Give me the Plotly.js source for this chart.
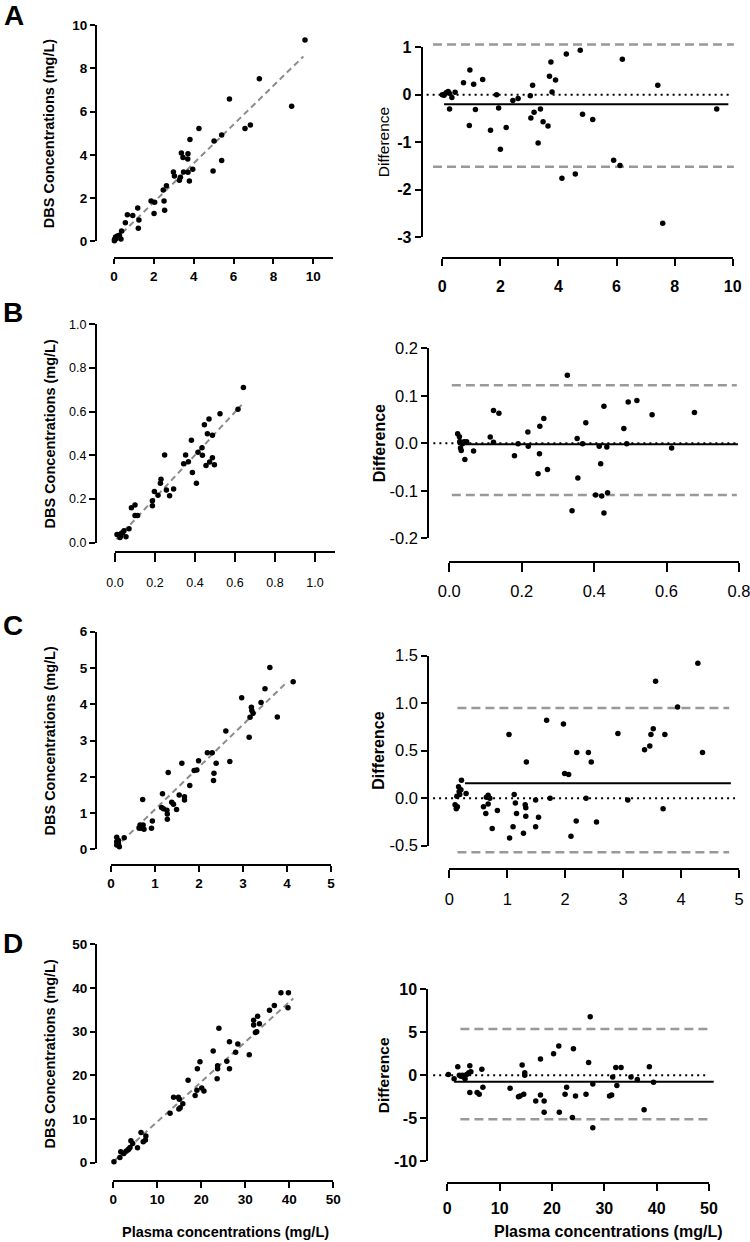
<!DOCTYPE html>
<html><head><meta charset="utf-8">
<script src="https://cdn.plot.ly/plotly-3.0.1.min.js"></script>
<style>html,body{margin:0;padding:0;background:#fff}#chart{width:750px;height:1242px}</style>
</head><body><div id="chart"></div>
<script>
// ---------- Panel A ----------
const aPlasma = [9.58,7.29,5.79,8.91,4.26,6.57,6.84,3.81,5.02,5.40,3.38,3.71,3.46,3.70,5.40,2.98,3.49,3.71,3.95,4.97,3.03,3.33,3.28,3.78,2.63,2.47,1.86,2.04,2.51,2.01,2.54,1.19,0.67,0.94,0.57,1.25,1.22,0.38,0.35,0.17,0.08,0.03,0.02,0.27,0.10];
const aDBS = [9.31,7.52,6.58,6.24,5.22,5.22,5.38,4.71,4.64,4.92,4.08,4.05,3.87,3.81,3.74,3.20,3.20,3.19,3.33,3.25,3.02,2.96,2.82,2.79,2.57,2.37,1.86,1.80,1.86,1.29,1.43,1.54,1.23,1.19,0.86,0.99,0.60,0.48,0.11,0.25,0.20,0.09,0.03,0.28,0.12];
const aMean = [0.00,0.06,0.13,0.20,0.24,0.33,0.44,0.25,0.73,0.95,0.93,1.08,1.14,1.39,1.66,1.87,1.94,2.00,2.20,2.43,2.61,3.03,3.05,3.11,3.16,3.30,3.38,3.47,3.64,3.69,3.74,3.78,3.90,4.12,4.27,4.58,4.75,4.83,5.18,5.90,6.12,6.20,7.42,7.59,9.45];
const aDiff = [0.00,-0.01,0.04,0.07,0.03,-0.06,0.05,-0.30,0.25,0.52,-0.65,0.22,-0.31,0.32,-0.75,0.00,-0.28,-1.15,-0.69,-0.12,-0.08,-0.02,-0.49,0.20,-0.37,-1.02,-0.30,-0.57,-0.66,0.39,0.69,0.06,0.31,-1.76,0.86,-1.67,0.94,-0.41,-0.52,-1.38,-1.49,0.75,0.20,-2.71,-0.30];
const aFit = {intercept: 0.015, slope: 0.898, from: 0.05, to: 9.5};
const aBias = -0.20;
const aLoA = [1.06, -1.52];

// ---------- Panel B ----------
const bPlasma = [0.642,0.615,0.525,0.470,0.447,0.462,0.487,0.382,0.435,0.415,0.437,0.487,0.473,0.455,0.497,0.353,0.343,0.367,0.387,0.407,0.248,0.230,0.227,0.257,0.293,0.273,0.197,0.215,0.187,0.187,0.100,0.082,0.100,0.113,0.070,0.045,0.033,0.022,0.010,0.028,0.055,0.025,0.038];
const bDBS = [0.711,0.611,0.591,0.566,0.540,0.499,0.492,0.469,0.435,0.414,0.400,0.389,0.369,0.353,0.357,0.402,0.362,0.371,0.321,0.272,0.402,0.290,0.272,0.241,0.246,0.215,0.235,0.217,0.192,0.169,0.173,0.160,0.124,0.124,0.064,0.055,0.043,0.037,0.038,0.031,0.027,0.024,0.046];
const bMean = [0.023,0.028,0.029,0.031,0.033,0.036,0.041,0.048,0.043,0.067,0.113,0.122,0.122,0.137,0.180,0.190,0.217,0.218,0.245,0.249,0.250,0.261,0.271,0.326,0.339,0.353,0.355,0.368,0.377,0.404,0.414,0.418,0.421,0.427,0.427,0.435,0.437,0.482,0.490,0.494,0.518,0.560,0.614,0.677];
const bDiff = [0.020,0.014,0.004,-0.010,-0.015,-0.001,0.003,0.003,-0.034,-0.016,0.013,0.069,0.002,0.063,-0.026,-0.001,0.024,-0.006,-0.064,-0.022,0.036,0.052,-0.055,0.143,-0.142,0.010,-0.073,-0.001,0.043,-0.109,-0.006,-0.043,-0.111,0.078,-0.147,-0.008,-0.104,0.031,-0.001,0.087,0.090,0.060,-0.010,0.065];
const bFit = {intercept: 0.008, slope: 0.984, from: 0.008, to: 0.633};
const bBias = -0.002;
const bLoA = [0.122, -0.109];

// ---------- Panel C ----------
const cPlasma = [4.14,3.61,3.50,3.41,3.78,2.97,3.19,3.20,3.16,3.23,3.14,2.61,2.70,2.19,2.30,2.39,2.34,2.33,1.99,1.61,1.89,1.95,1.30,1.79,1.17,1.55,1.67,1.67,1.38,1.42,1.15,1.19,1.27,1.49,1.28,1.28,0.72,0.94,0.92,0.66,0.73,0.70,0.75,0.64,0.30,0.13,0.13,0.17,0.19,0.13,0.17];
const cDBS = [4.62,5.01,4.43,4.05,3.65,4.18,3.92,3.83,3.64,3.75,3.09,3.26,2.42,2.66,2.66,2.37,2.10,1.90,2.44,2.37,2.17,2.19,2.12,1.76,1.53,1.50,1.45,1.36,1.30,1.24,1.15,1.12,1.08,1.10,0.97,0.83,1.37,0.78,0.58,0.67,0.67,0.58,0.55,0.58,0.32,0.33,0.21,0.15,0.07,0.12,0.24];
const cMean = [0.10,0.12,0.14,0.13,0.16,0.17,0.18,0.20,0.21,0.29,0.59,0.63,0.64,0.67,0.67,0.70,0.74,0.83,1.03,1.04,1.10,1.12,1.14,1.16,1.28,1.31,1.32,1.32,1.33,1.49,1.49,1.54,1.68,1.74,1.97,1.99,2.06,2.10,2.19,2.20,2.36,2.40,2.45,2.54,2.91,3.08,3.37,3.46,3.48,3.52,3.56,3.69,3.72,3.94,4.29,4.37];
const cDiff = [-0.07,-0.11,-0.09,0.02,0.12,0.07,0.04,0.09,0.19,0.05,-0.09,-0.16,0.01,0.03,-0.06,0.00,-0.32,-0.13,0.67,-0.42,-0.30,0.04,-0.05,-0.16,-0.37,-0.07,-0.19,-0.10,0.38,-0.30,-0.02,-0.20,0.82,0.00,0.78,0.26,0.25,-0.40,-0.24,0.48,0.00,0.48,0.38,-0.25,0.68,-0.02,0.51,0.55,0.67,0.73,1.23,-0.11,0.67,0.96,1.42,0.48];
const cFit = {intercept: -0.07, slope: 1.17, from: 0.25, to: 3.99};
const cBias = 0.158;
const cLoA = [0.95, -0.57];

// ---------- Panel D ----------
const dPlasma = [0.15,1.5,1.7,2.4,2.9,3.3,3.5,3.8,4.0,4.4,5.5,6.3,6.8,7.3,7.4,12.9,13.7,14.8,15.0,14.9,15.2,15.8,17.0,18.6,19.0,19.1,19.7,20.1,20.6,22.7,23.6,23.7,23.7,24.0,25.8,26.4,26.4,27.8,28.3,30.9,31.9,31.9,32.3,32.6,32.8,33.2,35.5,36.6,38.1,39.8,39.7];
const dDBS = [0.23,1.2,2.5,2.1,2.6,2.9,3.1,3.5,5.0,4.4,3.4,6.9,4.8,5.2,6.1,11.3,15.0,15.0,14.5,12.3,12.6,13.5,18.9,15.4,16.6,21.5,23.1,17.1,16.4,25.6,19.2,21.5,22.2,30.8,23.2,27.7,21.5,25.3,27.2,24.7,31.5,32.6,29.8,30.0,33.5,31.8,34.9,36.0,38.9,38.9,35.5];
const dMean = [0.2,1.3,2.0,2.3,2.6,2.9,3.1,3.4,3.7,4.1,4.3,4.5,4.3,5.7,6.1,6.6,6.8,12.0,13.6,13.9,14.3,14.6,14.8,14.8,16.9,17.8,17.8,18.5,18.5,20.3,21.3,21.4,22.5,22.8,23.9,24.1,24.5,26.5,27.0,27.3,27.8,27.8,31.0,31.4,31.6,32.2,32.4,33.2,35.1,36.3,37.6,38.6,39.4];
const dDiff = [0.1,-0.4,1.0,0.0,-0.1,0.0,-0.2,-0.4,0.1,0.3,1.1,0.4,-2.0,-2.0,-2.2,0.7,-1.4,-1.5,-2.5,-2.4,1.2,-2.2,0.3,0.0,-3.0,-2.3,1.9,-3.0,-4.3,2.5,3.4,-4.3,-2.2,-1.4,-4.9,3.1,-2.4,-2.2,1.5,6.8,-1.0,-6.1,-2.4,-2.3,-0.2,0.9,-1.2,0.9,-0.2,-0.5,-4.0,1.0,-0.8];
const dFit = {intercept: 0.23, slope: 0.914, from: 0.0, to: 40.9};
const dBias = -0.74;
const dLoA = [5.38, -5.12];

// ---------- Text ----------
const panelLetters = ['A','B','C','D'];
const yTitleLeft = 'DBS Concentrations (mg/L)';
const yTitleRight = 'Difference';
const xTitle = 'Plasma concentrations (mg/L)';

// ---------- Layout helpers ----------
const W = 750, H = 1242;
const FONT = 'Liberation Sans, Arial, Helvetica, sans-serif';
const fx = px => px / W;
const fy = py => 1 - py / H;
const rng = (a, b, s) => { const o = []; for (let v = a; v <= b + s * 1e-6; v += s) o.push(+v.toFixed(6)); return o; };

const subplots = [
  // A left
  {kind:'fit', xs:aPlasma, ys:aDBS, fit:aFit, xr:[0,11], yr:[0,10], xt:rng(0,10,2), yt:rng(0,10,2), dec:[0,0],
   xpx:[114,333.3], ypx:[241.3,25], yLineX:96, xLineY:258.3, tf:{size:13.5, weight:'bold'}, tl:[5,5], so:0},
  // A right
  {kind:'ba', xs:aMean, ys:aDiff, bias:aBias, loa:aLoA, xr:[0,10], yr:[-3,1], xt:rng(0,10,2), yt:rng(-3,1,1), dec:[0,0],
   xpx:[442.3,732.7], ypx:[237,47.3], yLineX:421.7, xLineY:258.3, tf:{size:16, weight:'bold'}, tl:[7,6], so:6,
   spans:{dash:[-0.32,10.04], solid:[0.06,9.85], dot:[-0.54,9.9]}},
  // B left
  {kind:'fit', xs:bPlasma, ys:bDBS, fit:bFit, xr:[0,1.1], yr:[0,1], xt:rng(0,1,0.2), yt:rng(0,1,0.2), dec:[1,1],
   xpx:[115,335], ypx:[542.7,324.3], yLineX:96, xLineY:551.7, tf:{size:12.5, weight:'normal'}, tl:[9,6], so:10},
  // B right
  {kind:'ba', xs:bMean, ys:bDiff, bias:bBias, loa:bLoA, xr:[0,0.8], yr:[-0.2,0.2], xt:rng(0,0.8,0.2), yt:rng(-0.2,0.2,0.1), dec:[1,1],
   xpx:[449.3,739], ypx:[538.3,348.3], yLineX:428.3, xLineY:561.7, tf:{size:16.5, weight:'normal'}, tl:[9,6], so:5,
   spans:{dash:[0.007,0.794], solid:[0.024,0.797], dot:[-0.044,0.794]}},
  // C left
  {kind:'fit', xs:cPlasma, ys:cDBS, fit:cFit, xr:[0,5], yr:[0,6], xt:rng(0,5,1), yt:rng(0,6,1), dec:[0,0],
   xpx:[111,331], ypx:[849.3,631.7], yLineX:96, xLineY:865, tf:{size:13.5, weight:'bold'}, tl:[6,5], so:0},
  // C right
  {kind:'ba', xs:cMean, ys:cDiff, bias:cBias, loa:cLoA, xr:[0,5], yr:[-0.5,1.5], xt:rng(0,5,1), yt:rng(-0.5,1.5,0.5), dec:[0,1],
   xpx:[449.3,739], ypx:[845.7,655.7], yLineX:428.3, xLineY:869, tf:{size:16.5, weight:'normal'}, tl:[8,6], so:7,
   spans:{dash:[0.14,4.83], solid:[0.27,4.86], dot:[-0.28,4.96]}},
  // D left
  {kind:'fit', xs:dPlasma, ys:dDBS, fit:dFit, xr:[0,50], yr:[0,50], xt:rng(0,50,10), yt:rng(0,50,10), dec:[0,0],
   xpx:[113.3,333.3], ypx:[1162.7,944.3], yLineX:96, xLineY:1180.7, tf:{size:13.5, weight:'bold'}, tl:[6,5], so:0},
  // D right
  {kind:'ba', xs:dMean, ys:dDiff, bias:dBias, loa:dLoA, xr:[0,50], yr:[-10,10], xt:rng(0,50,10), yt:rng(-10,10,5), dec:[0,0],
   xpx:[447.3,709], ypx:[1161.3,989.3], yLineX:427.3, xLineY:1182.7, tf:{size:16, weight:'bold'}, tl:[7,6], so:4,
   spans:{dash:[2.5,49.9], solid:[1.3,50.9], dot:[-2.7,49.6]}}
];

const traces = [];
const shapes = [];
const layout = {
  width: W, height: H,
  margin: {l:0, r:0, t:0, b:0},
  paper_bgcolor: '#ffffff', plot_bgcolor: '#ffffff',
  showlegend: false,
  font: {family: FONT, color: '#000'},
  annotations: []
};

subplots.forEach((s, i) => {
  const n = i + 1;
  const xid = n === 1 ? 'x' : 'x' + n;
  const yid = n === 1 ? 'y' : 'y' + n;
  const tickFont = {family: FONT, size: s.tf.size, color: '#000', weight: s.tf.weight};
  const common = {
    showline: true, linewidth: 2, linecolor: '#000',
    ticks: 'outside', tickwidth: 2, tickcolor: '#000',
    showgrid: false, zeroline: false, anchor: 'free', fixedrange: true,
    tickmode: 'array', tickfont: tickFont, ticklabeloverflow: 'allow'
  };
  layout['xaxis' + (n === 1 ? '' : n)] = Object.assign({}, common, {
    domain: [fx(s.xpx[0]), fx(s.xpx[1])], range: s.xr, position: fy(s.xLineY),
    tickvals: s.xt, ticktext: s.xt.map(v => v.toFixed(s.dec[0])), ticklen: s.tl[0],
    ticklabelstandoff: s.so
  });
  layout['yaxis' + (n === 1 ? '' : n)] = Object.assign({}, common, {
    domain: [fy(s.ypx[0]), fy(s.ypx[1])], range: s.yr, position: fx(s.yLineX),
    tickvals: s.yt, ticktext: s.yt.map(v => v.toFixed(s.dec[1])), ticklen: s.tl[1]
  });

  if (s.kind === 'fit') {
    const fxs = [s.fit.from, s.fit.to];
    traces.push({
      type: 'scatter', mode: 'lines', xaxis: xid, yaxis: yid,
      x: fxs, y: fxs.map(v => s.fit.intercept + s.fit.slope * v),
      line: {color: '#8c8c8c', width: 2, dash: '6px,4px'}, hoverinfo: 'skip'
    });
  } else {
    // reference lines in axis-domain units (converted from data values) so they are not clipped
    const fracX = v => (v - s.xr[0]) / (s.xr[1] - s.xr[0]);
    const fracY = v => (v - s.yr[0]) / (s.yr[1] - s.yr[0]);
    const hline = (val, span, style) => shapes.push(Object.assign({
      type: 'line', layer: 'below', xref: xid + ' domain', yref: yid + ' domain',
      x0: fracX(span[0]), x1: fracX(span[1]), y0: fracY(val), y1: fracY(val)
    }, style));
    hline(0, s.spans.dot, {line: {color: '#000', width: 2, dash: '2px,4px'}});
    hline(s.bias, s.spans.solid, {line: {color: '#000', width: 2}});
    s.loa.forEach(v => hline(v, s.spans.dash, {line: {color: '#999', width: 2.5, dash: '9px,5px'}}));
  }
  traces.push({
    type: 'scatter', mode: 'markers', xaxis: xid, yaxis: yid,
    x: s.xs, y: s.ys, cliponaxis: false,
    marker: {color: '#000', size: 5.5, line: {width: 0}}, hoverinfo: 'x+y'
  });
});

// Panel letters
const letterPos = [[14,15],[13,312],[13,625],[13,943]];
panelLetters.forEach((t, i) => layout.annotations.push({
  text: t, xref: 'paper', yref: 'paper', x: fx(letterPos[i][0]), y: fy(letterPos[i][1]),
  xanchor: 'center', yanchor: 'middle', showarrow: false,
  font: {family: FONT, size: 28, weight: 'bold', color: '#000'}
}));

// Y axis titles
subplots.forEach((s, i) => {
  const left = i % 2 === 0;
  const row = Math.floor(i / 2);
  const cy = (s.ypx[0] + s.ypx[1]) / 2;
  let font;
  if (left) font = {family: FONT, size: 14.5, weight: 'bold', color: '#000'};
  else if (row === 0) font = {family: FONT, size: 15.5, weight: 'normal', color: '#000'};
  else font = {family: FONT, size: row === 3 ? 15.5 : 16, weight: 'bold', color: '#000'};
  const xcenter = left ? 49 : (row === 0 || row === 3 ? 383 : 379);
  layout.annotations.push({
    text: left ? yTitleLeft : yTitleRight, textangle: -90,
    xref: 'paper', yref: 'paper', x: fx(xcenter), y: fy(cy),
    xanchor: 'center', yanchor: 'middle', showarrow: false, font: font
  });
});

// X axis titles (bottom row)
[[225, 14.5], [608, 16]].forEach(([cx, sz]) => layout.annotations.push({
  text: xTitle, xref: 'paper', yref: 'paper', x: fx(cx), y: fy(1231.7),
  xanchor: 'center', yanchor: 'middle', showarrow: false,
  font: {family: FONT, size: sz, weight: 'bold', color: '#000'}
}));

layout.shapes = shapes;
Plotly.newPlot('chart', traces, layout, {staticPlot: true, displayModeBar: false});
</script>
</body></html>
